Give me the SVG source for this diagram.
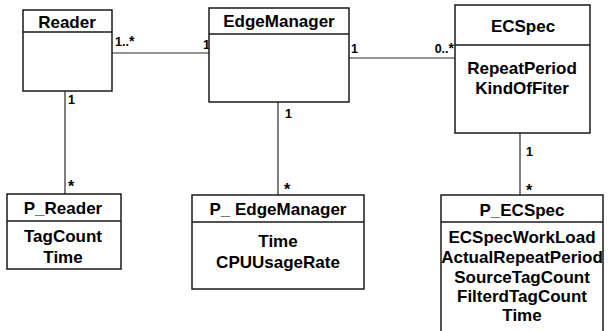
<svg xmlns="http://www.w3.org/2000/svg" width="609" height="331" viewBox="0 0 609 331">
  <style>
    .box { fill: #ffffff; stroke: #1a1a1a; stroke-width: 1.5; }
    .div { stroke: #1a1a1a; stroke-width: 1.5; }
    .link { stroke: #2a2a2a; stroke-width: 1.2; fill: none; }
    .title { font-family: "Liberation Sans", Arial, sans-serif; font-weight: bold; font-size: 17px; fill: #000; text-anchor: middle; }
    .attr { font-family: "Liberation Sans", Arial, sans-serif; font-weight: bold; font-size: 17px; fill: #000; text-anchor: middle; }
    .mult { font-family: "Liberation Sans", Arial, sans-serif; font-weight: bold; font-size: 12.5px; fill: #000; }
    .star { font-family: "Liberation Sans", Arial, sans-serif; font-weight: bold; font-size: 16px; fill: #000; }
  </style>
  <rect width="609" height="331" fill="#ffffff"/>

  <!-- associations -->
  <g id="connectors">
    <line class="link" x1="112" y1="53" x2="209" y2="53"/>
    <line class="link" x1="349" y1="58" x2="455" y2="58"/>
    <line class="link" x1="65" y1="91" x2="65" y2="194"/>
    <line class="link" x1="278" y1="102" x2="278" y2="195"/>
    <line class="link" x1="520" y1="133" x2="520" y2="195"/>

    <text class="mult" x="115" y="46">1..<tspan font-size="14">*</tspan></text>
    <text class="mult" x="203" y="49">1</text>
    <text class="mult" x="351" y="53">1</text>
    <text class="mult" x="454" y="53" text-anchor="end">0..<tspan font-size="14">*</tspan></text>
    <text class="mult" x="68" y="104">1</text>
    <text class="star" x="68" y="192">*</text>
    <text class="mult" x="285" y="118">1</text>
    <text class="star" x="284" y="195">*</text>
    <text class="mult" x="526" y="156">1</text>
    <text class="star" x="526" y="196">*</text>
  </g>

  <g id="Reader">
    <rect class="box" x="23" y="10" width="89" height="81"/>
    <line class="div" x1="23" y1="32" x2="112" y2="32"/>
    <text class="title" x="67" y="28">Reader</text>
  </g>

  <g id="EdgeManager">
    <rect class="box" x="209" y="8" width="140" height="94"/>
    <line class="div" x1="209" y1="34" x2="349" y2="34"/>
    <text class="title" x="279" y="27">EdgeManager</text>
  </g>

  <g id="ECSpec">
    <rect class="box" x="455" y="5" width="135" height="128"/>
    <line class="div" x1="455" y1="45" x2="590" y2="45"/>
    <text class="title" x="523" y="32">ECSpec</text>
    <text class="attr" x="522" y="74">RepeatPeriod</text>
    <text class="attr" x="522" y="94">KindOfFiter</text>
  </g>

  <g id="P_Reader">
    <rect class="box" x="7" y="194" width="114" height="75"/>
    <line class="div" x1="7" y1="221" x2="121" y2="221"/>
    <text class="title" x="63" y="214">P_Reader</text>
    <text class="attr" x="63" y="242">TagCount</text>
    <text class="attr" x="63" y="263">Time</text>
  </g>

  <g id="P_EdgeManager">
    <rect class="box" x="192" y="195" width="172" height="94"/>
    <line class="div" x1="192" y1="222" x2="364" y2="222"/>
    <text class="title" x="278" y="215">P_ EdgeManager</text>
    <text class="attr" x="278" y="247">Time</text>
    <text class="attr" x="278" y="268">CPUUsageRate</text>
  </g>

  <g id="P_ECSpec">
    <rect class="box" x="441" y="195" width="162" height="150"/>
    <line class="div" x1="441" y1="222" x2="603" y2="222"/>
    <text class="title" x="522" y="216">P_ECSpec</text>
    <text class="attr" x="522" y="243">ECSpecWorkLoad</text>
    <text class="attr" x="522" y="263">ActualRepeatPeriod</text>
    <text class="attr" x="522" y="283">SourceTagCount</text>
    <text class="attr" x="522" y="302">FilterdTagCount</text>
    <text class="attr" x="522" y="321">Time</text>
  </g>
</svg>
